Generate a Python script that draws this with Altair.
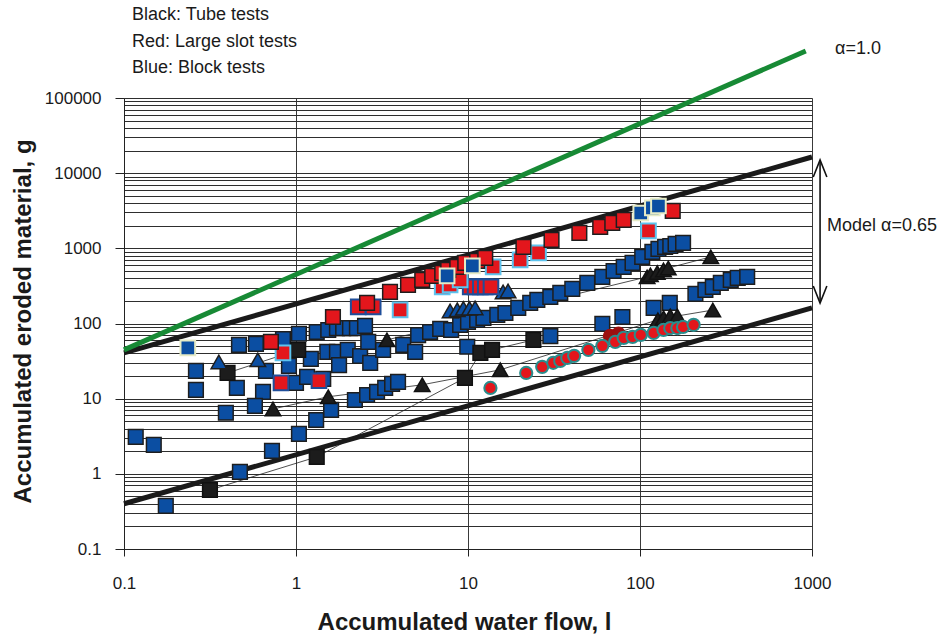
import altair as alt
import pandas as pd

FONT = "Liberation Sans, Arial, Helvetica, sans-serif"

# ---------------- data ----------------
# Blue squares: Block tests
block_x = [0.117, 0.149, 0.175, 0.262, 0.262, 0.391, 0.453, 0.466, 0.585, 0.669,
           0.643, 0.577, 0.725, 0.472, 1.04, 1.31, 1.60, 0.84, 1.04, 0.91,
           1.00, 1.22, 1.16, 1.44, 1.32, 1.54, 1.73, 1.88, 2.06, 2.26,
           2.52, 1.52, 1.73, 2.0, 1.78, 2.36, 2.63, 2.70, 3.21, 4.2,
           4.93, 5.13, 6.02, 6.89, 7.98, 9.0, 10.0, 11.3, 12.3, 14.8,
           16.5, 19.6, 23.0, 25.3, 30.1, 34.4, 40.4, 49.4, 60.4, 70.2,
           80.4, 90.5, 103, 118, 128, 140, 150, 161, 178, 9.9,
           60.4, 79, 120, 149, 210, 240, 265, 295, 337, 370,
           420, 30.1, 2.2, 2.59, 2.96, 3.30, 3.62, 3.92]
block_y = [3.1, 2.43, 0.375, 23.4, 13.1, 6.5, 13.9, 52, 53.5, 23.4,
           12.3, 8.0, 2.02, 1.06, 3.4, 5.2, 7.1, 62, 73, 27.3,
           16.2, 33.8, 19.5, 18.3, 77, 82, 87, 87, 87, 87,
           93, 42, 42, 44.6, 28, 37, 57, 30, 44.6, 52,
           42, 70, 77, 85, 82, 96, 105, 112, 119, 130,
           138, 161, 188, 206, 226, 255, 289, 347, 417, 500,
           566, 640, 769, 896, 982, 1045, 1073, 1145, 1180, 49,
           99, 122, 161, 188, 248, 280, 307, 347, 380, 404,
           417, 68, 9.6, 11.2, 12.3, 13.9, 15.7, 16.7]

# Blue squares with a pale outline
block_pale_x = [0.235, 7.56, 10.6, 101, 118, 128]
block_pale_y = [47.4, 430, 583, 2950, 3445, 3660]

# Blue triangles
block_tri_x = [0.356, 0.60, 7.87, 8.66, 9.4, 10.2, 11.0, 16.0, 17.1]
block_tri_y = [30.8, 32.8, 147, 152, 159, 159, 161, 263, 271]

# Red squares: Large slot tests (dark outline)
slot_x = [0.715, 1.64, 2.59, 3.52, 4.48, 5.42, 6.19, 7.08, 7.67, 8.66,
          9.64, 11.3, 12.6, 21.0, 30.6, 44.4, 58.7, 69, 80.4, 155]
slot_y = [57, 122, 188, 263, 326, 380, 430, 471, 516, 566,
          640, 680, 745, 1045, 1294, 1603, 1927, 2177, 2388, 3143]

# Red squares with light blue outline
slot_lb_x = [0.84, 4.03, 7.08, 7.87, 9.0, 14.0, 20.1, 25.7, 112]
slot_lb_y = [40.6, 152, 307, 326, 380, 566, 701, 869, 1703]

# Red squares with dark blue outline
slot_db_x = [0.818, 1.36, 2.30, 2.81, 10.3, 11.0, 11.8, 12.6, 13.6]
slot_db_y = [16.2, 17.3, 166, 166, 307, 307, 307, 307, 307]

# Red circles
circle_x = [13.5, 21.8, 27.0, 31.3, 34.4, 37.8, 41.4, 50.1, 60.4, 71.8,
            80.4, 90.5, 101, 120, 137, 150, 165, 178, 205]
circle_y = [13.9, 22, 26.5, 30, 31.8, 34.9, 37.1, 44.6, 50.4, 57,
            64.4, 66.4, 70.5, 75, 82, 87, 87, 90, 96]
circle_dark_x = [67, 75]
circle_dark_y = [68, 73]

# Black squares: Tube tests (connected)
tube1_x = [0.316, 1.32, 9.6, 11.8, 13.8, 24]
tube1_y = [0.61, 1.68, 18.9, 40.6, 44.6, 60.5]
tube2_x = [0.40, 1.03]
tube2_y = [22, 44.6]

# Black triangles: Tube tests (connected)
tri1_x = [0.735, 1.54, 5.42, 15.4, 127, 137, 150, 165, 265]
tri1_y = [7.3, 10.6, 15.3, 24.2, 112, 119, 126, 126, 151]
tri2_x = [3.38, 110, 115, 126, 137, 146, 258]
tri2_y = [60.5, 417, 443, 476, 516, 548, 769]

# Reference lines (end points)
model_x = [0.1, 1000]
model_upper_y = [40.6, 16400]
model_lower_y = [0.40, 161]
alpha1_x = [0.1, 920]
alpha1_y = [44.6, 423000]

# Arrow between the model lines
arrow_x = [1114]
arrow_top = [14960]
arrow_bottom = [187]

x_ticks = [0.1, 1, 10, 100, 1000]
y_ticks = [m * 10.0 ** k for k in range(-1, 5) for m in range(1, 10)] + [100000]

legend_lines = ["Black: Tube tests", "Red: Large slot tests", "Blue: Block tests"]
alpha1_label = "\u03b1=1.0"
model_label = "Model \u03b1=0.65"


def df(xs, ys):
    return pd.DataFrame({"x": xs, "y": ys})


X_SCALE = alt.Scale(type="log", domain=[0.1, 1000])
Y_SCALE = alt.Scale(type="log", domain=[0.1, 100000])

is_decade = "abs(log(datum.value)/LN10 - round(log(datum.value)/LN10)) < 0.001"

x_axis = alt.Axis(
    values=x_ticks, format="~g", grid=True, gridColor="#3a3a3a", gridWidth=1,
    domainColor="#222222", tickColor="#222222", tickSize=7,
    labelFont=FONT, labelFontSize=17, labelColor="#1a1a1a", labelPadding=19,
    labelFlush=False, labelOverlap=False,
    title="Accumulated water flow, l", titleFont=FONT, titleFontSize=24,
    titleFontWeight="bold", titleColor="#1a1a1a",
    titleX=340, titleY=80, titleAlign="center", titleBaseline="alphabetic",
)
y_axis = alt.Axis(
    values=y_ticks, format="~g", grid=True, gridColor="#2e2e2e", gridWidth=1.1,
    domainColor="#222222", tickColor="#222222", tickSize=9,
    tickOpacity={"condition": {"test": is_decade, "value": 1}, "value": 0},
    labelExpr=is_decade + " ? datum.label : ''",
    labelFont=FONT, labelFontSize=17, labelColor="#1a1a1a", labelPadding=14,
    labelOverlap=False, labelFlush=False,
    title="Accumulated eroded material, g", titleFont=FONT, titleFontSize=24,
    titleFontWeight="bold", titleColor="#1a1a1a",
    titleX=-94, titleY=223, titleAlign="center", titleBaseline="alphabetic",
    titleAngle=270,
)


def xy(chart, y_field="y"):
    return chart.encode(
        x=alt.X("x:Q", scale=X_SCALE, axis=x_axis),
        y=alt.Y(f"{y_field}:Q", scale=Y_SCALE, axis=y_axis),
    )


layers = []

# thin connecting lines
for xs, ys in [(tube1_x, tube1_y), (tube2_x, tube2_y), (tri1_x, tri1_y), (tri2_x, tri2_y)]:
    layers.append(xy(alt.Chart(df(xs, ys)).mark_line(color="#222222", strokeWidth=0.8)))

# model lines
for ys in [model_upper_y, model_lower_y]:
    layers.append(xy(alt.Chart(df(model_x, ys)).mark_line(color="#1a1a1a", strokeWidth=5)))

# alpha = 1 line
layers.append(xy(alt.Chart(df(alpha1_x, alpha1_y)).mark_line(color="#178a35", strokeWidth=5, clip=False)))

# arrow
arrow_df = pd.DataFrame({"x": arrow_x, "y": arrow_top, "y2": arrow_bottom})
layers.append(
    alt.Chart(arrow_df).mark_rule(color="#111111", strokeWidth=1.6).encode(
        x=alt.X("x:Q", scale=X_SCALE, axis=x_axis),
        y=alt.Y("y:Q", scale=Y_SCALE, axis=y_axis),
        y2="y2:Q",
    )
)
layers.append(xy(alt.Chart(df(arrow_x, arrow_top)).mark_point(
    shape="M-0.8,2L0,0L0.8,2", size=289, filled=False, stroke="#111111",
    strokeWidth=1.6, opacity=1)))
layers.append(xy(alt.Chart(df(arrow_x, arrow_bottom)).mark_point(
    shape="M-0.8,-2L0,0L0.8,-2", size=289, filled=False, stroke="#111111",
    strokeWidth=1.6, opacity=1)))

SQ = 215
TRI = 240
OUT = "#1e1e1e"
BLUE = "#0b4ea2"
RED = "#e3161c"


def sq(xs, ys, fill, stroke, sw=1.5, shape="square", size=SQ):
    return xy(alt.Chart(df(xs, ys)).mark_point(
        shape=shape, filled=True, fill=fill, stroke=stroke, strokeWidth=sw,
        size=size, opacity=1))


layers.append(sq(block_x, block_y, BLUE, OUT))
layers.append(sq(tube1_x, tube1_y, "#1c1c1c", "#111111"))
layers.append(sq(tube2_x, tube2_y, "#1c1c1c", "#111111"))
layers.append(sq(tri1_x, tri1_y, "#1c1c1c", "#111111", shape="triangle-up", size=TRI))
layers.append(sq(tri2_x, tri2_y, "#1c1c1c", "#111111", shape="triangle-up", size=TRI))
layers.append(sq(block_tri_x, block_tri_y, BLUE, OUT, shape="triangle-up", size=TRI))
layers.append(sq(slot_db_x, slot_db_y, RED, "#1f4e9a", sw=2))
layers.append(sq(slot_lb_x, slot_lb_y, RED, "#5cc3ee", sw=2))
layers.append(sq(slot_x, slot_y, RED, OUT))
layers.append(sq(circle_dark_x, circle_dark_y, "#9c1010", "#9c1010", shape="circle", size=170))
layers.append(sq(circle_x, circle_y, RED, "#2a8c8c", sw=2, shape="circle", size=150))
layers.append(sq(block_pale_x, block_pale_y, BLUE, "#e6ebc6", sw=2))


# annotation texts
def text_layer(label, px, py, size=18):
    return alt.Chart(pd.DataFrame({"t": [label]})).mark_text(
        align="left", baseline="alphabetic", font=FONT, fontSize=size,
        color="#1a1a1a").encode(x=alt.value(px), y=alt.value(py), text="t:N")


layers.append(text_layer(legend_lines[0], 8, -78))
layers.append(text_layer(legend_lines[1], 8, -51.5))
layers.append(text_layer(legend_lines[2], 8, -25.3))
layers.append(text_layer(alpha1_label, 711, -44))
layers.append(text_layer(model_label, 703, 133))

chart = alt.layer(*layers).properties(
    width=688, height=451,
    padding={"left": 124, "top": 98, "right": 130, "bottom": 88},
    autosize=alt.AutoSizeParams(type="none"),
    background="white",
).configure_view(stroke="#222222", strokeWidth=1).configure(font=FONT)

chart.save("out.html", embed_options={"renderer": "svg", "actions": False})
